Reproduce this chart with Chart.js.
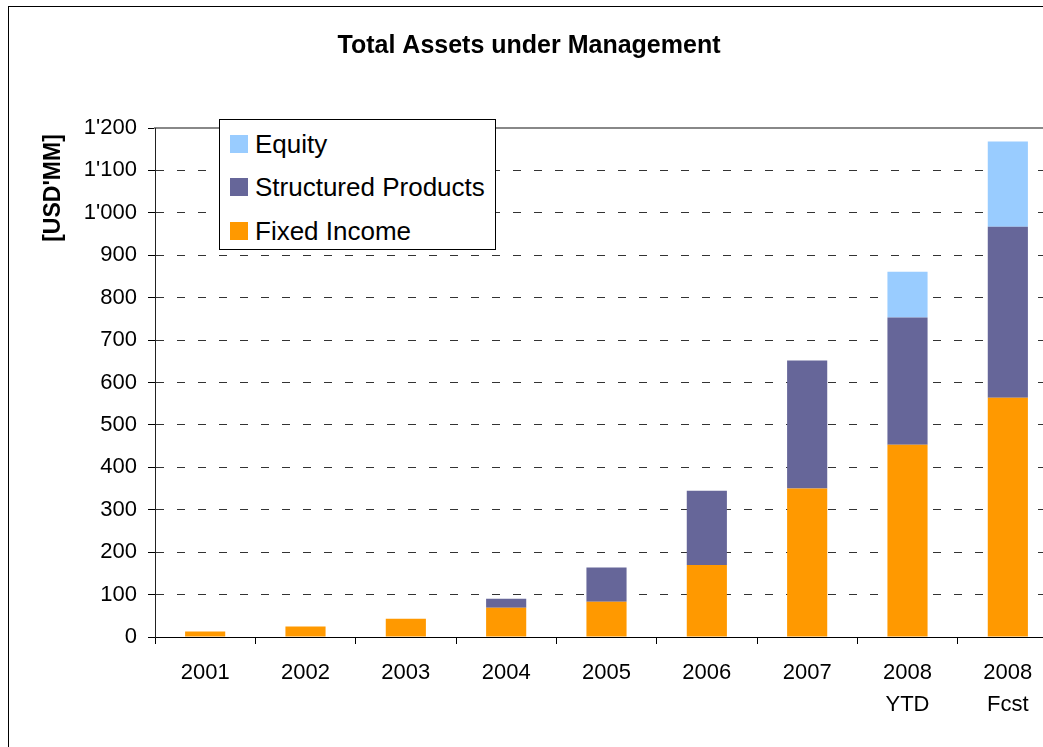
<!DOCTYPE html>
<html>
<head>
<meta charset="utf-8">
<script src="https://cdn.jsdelivr.net/npm/chart.js@4/dist/chart.umd.min.js"></script>
<style>
  html, body { margin: 0; padding: 0; background: #fff; overflow: hidden; }
  #wrap { position: absolute; left: 0; top: 0; width: 1070px; height: 760px; }
  #frame { position: absolute; left: 8px; top: 6px; width: 1100px; height: 800px; border: 1px solid #000; box-sizing: border-box; pointer-events: none; }
  #legend { position: absolute; left: 219px; top: 119px; width: 277px; height: 131px; box-sizing: border-box;
            border: 1px solid #000; background: #fff; font-family: 'Liberation Sans', Arial, sans-serif; font-size: 26px; color: #000; }
  .item { position: absolute; left: 10px; height: 24px; line-height: 24px; white-space: nowrap; }
  .sw { position: absolute; left: 0; top: 2px; width: 18px; height: 18px; }
  .lbl { position: absolute; left: 25px; top: -1px; }
</style>
</head>
<body>
<div id="wrap"><canvas id="c"></canvas></div>
<div id="frame"></div>
<div id="legend"></div>
<script>
const categories = ['2001', '2002', '2003', '2004', '2005', '2006', '2007', ['2008', 'YTD'], ['2008', 'Fcst']];
const fixedIncome = [13, 25, 43, 69, 83, 170, 350, 453, 564];
const structuredProducts = [0, 0, 0, 21, 81, 175, 302, 300, 403];
const equity = [0, 0, 0, 0, 0, 0, 0, 108, 201];
const seriesNames = ['Fixed Income', 'Structured Products', 'Equity'];
const seriesColors = ['#FF9900', '#666699', '#99CCFF'];
const yMax = 1200;
const yStep = 100;

const FONT = "'Liberation Sans', Arial, Helvetica, sans-serif";
Chart.defaults.font.family = FONT;
Chart.defaults.color = '#000';

function fmt(v) {
  return String(v).replace(/\B(?=(\d{3})+(?!\d))/g, "'");
}

const yTitlePlugin = {
  id: 'yTitle',
  afterDraw(chart) {
    const ctx = chart.ctx;
    ctx.save();
    ctx.translate(54, 188);
    ctx.rotate(-Math.PI / 2);
    ctx.font = "bold 23px " + FONT;
    ctx.fillStyle = '#000';
    ctx.textAlign = 'center';
    ctx.textBaseline = 'middle';
    ctx.fillText("[USD'MM]", 0, 0);
    ctx.restore();
  }
};

const seriesData = [fixedIncome, structuredProducts, equity];
const chart = new Chart(document.getElementById('c'), {
  type: 'bar',
  data: {
    labels: categories,
    datasets: seriesData.map((d, i) => ({
      label: seriesNames[i],
      data: d,
      backgroundColor: seriesColors[i],
      borderWidth: 0,
      barPercentage: 0.4,
      categoryPercentage: 1.0
    }))
  },
  options: {
    responsive: true,
    maintainAspectRatio: false,
    animation: false,
    layout: { padding: { left: 0, right: 12, top: 0, bottom: 0 } },
    plugins: {
      legend: { display: false },
      tooltip: { enabled: false },
      title: {
        display: true,
        text: 'Total Assets under Management',
        font: { size: 25, weight: 'bold', lineHeight: 1.2 },
        color: '#000',
        padding: { top: 31, bottom: 67 }
      }
    },
    scales: {
      x: {
        stacked: true,
        grid: { display: true, drawOnChartArea: false, drawTicks: true, tickLength: 7, tickColor: '#000', offset: true },
        border: { display: true, color: '#000', width: 1 },
        ticks: { font: { size: 22, lineHeight: 1.45 }, color: '#000', padding: 13, maxRotation: 0, autoSkip: false },
        afterFit(scale) { scale.height = 123; }
      },
      x2: {
        position: 'top',
        display: true,
        grid: { display: false, drawTicks: false },
        border: { display: true, color: '#888', width: 2 },
        ticks: { display: false },
        afterFit(scale) { scale.height = 0; }
      },
      y: {
        stacked: true,
        min: 0,
        max: yMax,
        grid: {
          color: (c) => (c.tick && c.tick.value === yMax) ? 'rgba(0,0,0,0)' : '#333',
          lineWidth: 1,
          drawTicks: true,
          tickLength: 7,
          tickColor: '#000'
        },
        border: { display: true, color: '#222', width: 1, dash: [8, 13] },
        ticks: {
          stepSize: yStep,
          font: { size: 22 },
          color: '#000',
          padding: 11,
          callback: (v) => fmt(v)
        },
        afterFit(scale) { scale.width = 155; }
      }
    }
  },
  plugins: [yTitlePlugin]
});

// HTML legend built from the datasets (reverse order, like the reference)
const legend = document.getElementById('legend');
const tops = [13, 56, 100];
[2, 1, 0].forEach((idx, k) => {
  const it = document.createElement('div');
  it.className = 'item';
  it.style.top = tops[k] + 'px';
  const sw = document.createElement('span');
  sw.className = 'sw';
  sw.style.background = seriesColors[idx];
  const lb = document.createElement('span');
  lb.className = 'lbl';
  lb.textContent = seriesNames[idx];
  it.appendChild(sw);
  it.appendChild(lb);
  legend.appendChild(it);
});
</script>
</body>
</html>
